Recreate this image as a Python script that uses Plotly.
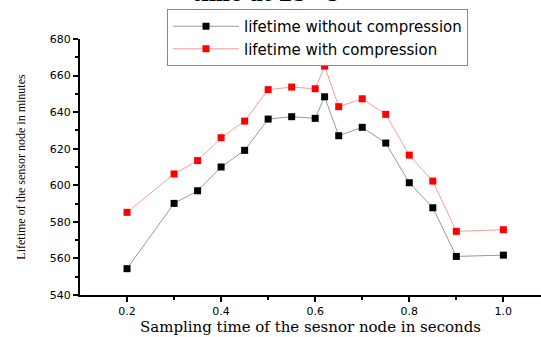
import plotly.graph_objects as go

x_vals = [0.2, 0.3, 0.35, 0.4, 0.45, 0.5, 0.55, 0.6, 0.62, 0.65, 0.7, 0.75, 0.8, 0.85, 0.9, 1.0]
without_comp = [554.4, 590.1, 597.0, 610.0, 619.1, 636.2, 637.5, 636.6, 648.4, 627.1, 631.7, 623.1, 601.4, 587.7, 561.1, 561.8]
with_comp = [585.2, 606.2, 613.5, 626.0, 635.1, 652.3, 653.7, 652.8, 665.2, 643.0, 647.3, 638.8, 616.5, 602.3, 574.8, 575.7]
names = ["lifetime without compression", "lifetime with compression"]

fig = go.Figure()
fig.add_trace(go.Scatter(
    x=x_vals, y=without_comp, name=names[0], mode="lines+markers",
    line=dict(color="#9a9a9a", width=1),
    marker=dict(symbol="square", size=7, color="black", line=dict(width=0)),
))
fig.add_trace(go.Scatter(
    x=x_vals, y=with_comp, name=names[1], mode="lines+markers",
    line=dict(color="#ff9a9a", width=1),
    marker=dict(symbol="square", size=7, color="#ff0000", line=dict(width=0)),
))

fig.update_layout(
    width=541, height=337,
    margin=dict(l=80, r=0, t=39, b=42, autoexpand=False),
    paper_bgcolor="white", plot_bgcolor="white",
    showlegend=True,
    legend=dict(
        x=(167 - 80) / 461, y=1 + (39 - 9) / 256, xanchor="left", yanchor="top",
        bordercolor="#888888", borderwidth=1, bgcolor="white",
        font=dict(family="DejaVu Sans", size=15, color="black"),
        tracegroupgap=0, itemwidth=66,
    ),
    xaxis=dict(
        range=[0.1, 1.08], tickvals=[0.2, 0.4, 0.6, 0.8, 1.0],
        ticktext=["0.2", "0.4", "0.6", "0.8", "1.0"],
        ticks="outside", ticklen=5, tickwidth=2, tickcolor="black",
        minor=dict(tickvals=[0.3, 0.5, 0.7, 0.9], ticks="outside", ticklen=3, tickwidth=2, tickcolor="black"),
        showline=True, linecolor="black", linewidth=2, showgrid=False, zeroline=False,
        tickfont=dict(family="DejaVu Sans", size=11, color="black"),
        title=dict(text="Sampling time of the sesnor node in seconds",
                   font=dict(family="DejaVu Serif", size=15, color="black"),
                   standoff=3),
    ),
    yaxis=dict(
        range=[540, 680], tickvals=[540, 560, 580, 600, 620, 640, 660, 680],
        ticks="outside", ticklen=5, tickwidth=2, tickcolor="black",
        minor=dict(tickvals=[550, 570, 590, 610, 630, 650, 670], ticks="outside", ticklen=3, tickwidth=2, tickcolor="black"),
        showline=True, linecolor="black", linewidth=2, showgrid=False, zeroline=False,
        tickfont=dict(family="DejaVu Sans", size=11, color="black"),
        title=dict(text="Lifetime of the sensor node in minutes",
                   font=dict(family="Liberation Serif, Times New Roman", size=12, color="black"),
                   standoff=22),
    ),
    annotations=[dict(
        text="<b>time at 25 °C</b>", x=(266 - 80) / 461, y=1 + (39 + 6) / 256,
        xref="paper", yref="paper", xanchor="center", yanchor="middle",
        showarrow=False, font=dict(family="DejaVu Serif", size=20, color="black"),
    )],
)

fig.write_html("out.html", config={"displayModeBar": False},
               post_script="document.body.style.margin='0';")
